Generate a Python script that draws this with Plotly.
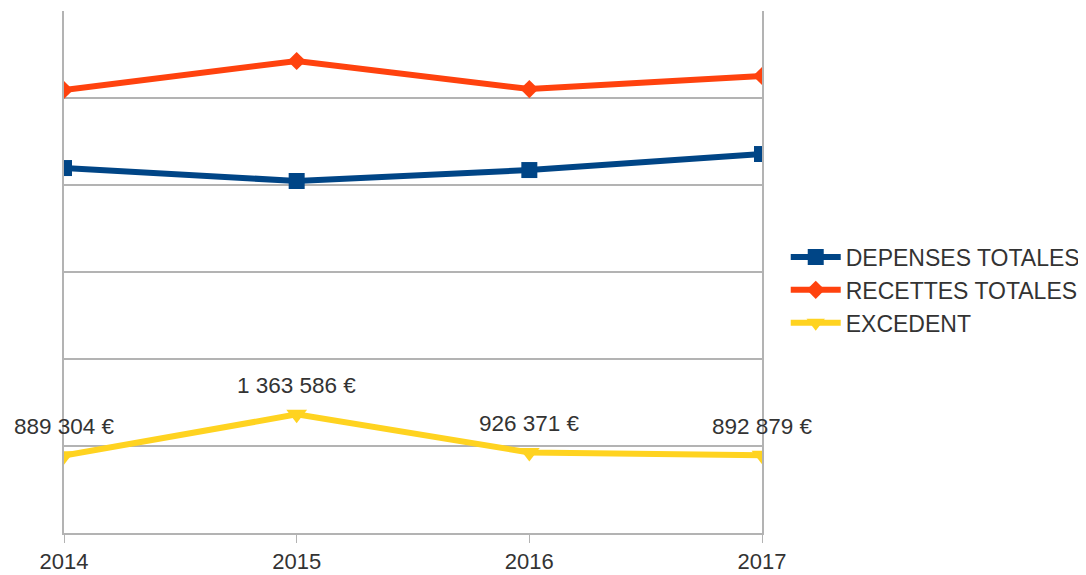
import plotly.graph_objects as go

years = [2014, 2015, 2016, 2017]
depenses = [4195000, 4046000, 4172000, 4356000]
recettes = [5092000, 5425000, 5103000, 5253000]
excedent = [889304, 1363586, 926371, 892879]

series_names = ["DEPENSES TOTALES", "RECETTES TOTALES", "EXCEDENT"]
colors = ["#004586", "#ff420e", "#ffd320"]

FONT = "Liberation Sans, Arial, sans-serif"

fig = go.Figure()
fig.add_trace(go.Scatter(x=years, y=depenses, name=series_names[0], mode="lines+markers",
                         line=dict(color=colors[0], width=6),
                         marker=dict(symbol="square", size=16, color=colors[0])))
fig.add_trace(go.Scatter(x=years, y=recettes, name=series_names[1], mode="lines+markers",
                         line=dict(color=colors[1], width=6),
                         marker=dict(symbol="diamond", size=14, color=colors[1])))
fig.add_trace(go.Scatter(x=years, y=excedent, name=series_names[2], mode="lines+markers",
                         line=dict(color=colors[2], width=6),
                         marker=dict(symbol="triangle-down", size=18, color=colors[2])))

def fmt(v):
    return f"{v:,}".replace(",", " ") + " €"

for x, v in zip(years, excedent):
    fig.add_annotation(x=x, y=v, text=fmt(v), showarrow=False, yshift=29,
                       font=dict(family=FONT, size=22.5, color="#333333"))

fig.update_layout(
    width=1078, height=567,
    margin=dict(l=56, r=324, t=3, b=42, autoexpand=False),
    paper_bgcolor="white", plot_bgcolor="white",
    font=dict(family=FONT, size=22, color="#333333"),
    showlegend=True,
    legend=dict(x=1.034, y=0.4655, xanchor="left", yanchor="middle",
                font=dict(family=FONT, size=23, color="#333333"),
                tracegroupgap=0, itemwidth=50),
)
fig.update_xaxes(range=[2014, 2017], tickvals=years, ticktext=[str(y) for y in years],
                 showgrid=False, showline=True, linecolor="#b3b3b3", linewidth=1.5,
                 ticks="outside", ticklen=8, tickcolor="#b3b3b3", zeroline=False,
                 automargin=False,
                 tickfont=dict(family=FONT, size=22, color="#333333"))
fig.update_yaxes(range=[0, 6000000], dtick=1000000, showticklabels=False,
                 showgrid=True, gridcolor="#b3b3b3", gridwidth=1.5,
                 showline=True, linecolor="#b3b3b3", linewidth=1.5, mirror=True,
                 zeroline=False, ticks="", automargin=False)

fig.write_html("out.html")
